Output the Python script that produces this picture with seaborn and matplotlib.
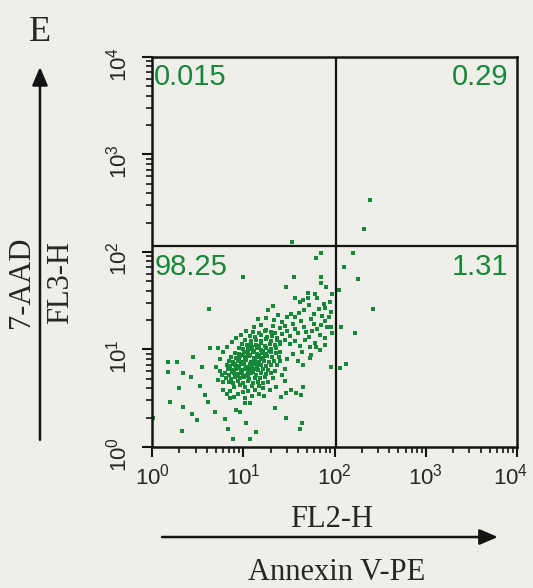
import pandas as pd
import seaborn as sns
import matplotlib
matplotlib.use("Agg")
import matplotlib.pyplot as plt
from matplotlib.ticker import LogLocator, LogFormatterSciNotation, FuncFormatter
from matplotlib.transforms import ScaledTranslation

# events, as 1024-channel values (256 channels per decade)
# (FL2 channel, FL3 channel)
ul_events = [(393, 537)]
ur_events = [(611, 649), (595, 572)]
lr_events = [(564, 509), (539, 473), (578, 441), (620, 362), (569, 299),
             (530, 315), (544, 218), (527, 207), (525, 412)]

# sparse live cells spread round the main population
ll_sparse = [
    (256, 447), (474, 510), (459, 495), (398, 447), (473, 447), (475, 430), (375, 419),
    (489, 419), (438, 405), (457, 403), (506, 403), (401, 390), (424, 386), (160, 362),
    (340, 370), (326, 360), (298, 335), (321, 338), (342, 333), (354, 347), (499, 382),
    (485, 364), (502, 355), (503, 316), (503, 209), (461, 263), (485, 285), (443, 233),
    (447, 242), (424, 215), (4, 77), (83, 42), (228, 20), (276, 20), (293, 40), (214, 46),
    (265, 62), (247, 93), (237, 97), (415, 46), (421, 62), (375, 75), (345, 103), (125, 71),
    (111, 86), (88, 106), (50, 119), (77, 154), (46, 198), (46, 224), (69, 224), (86, 193),
    (109, 183), (116, 237), (136, 161), (149, 137), (158, 119), (177, 93), (205, 73),
    (139, 211), (163, 259), (186, 259), (377, 141), (405, 141), (419, 137), (363, 132),
    (391, 150), (349, 158), (424, 158), (373, 172), (261, 115), (275, 116), (219, 128),
]

# dense core of the live population
ll_core = [
    (230, 158), (248, 162), (262, 157), (281, 161), (300, 159),
    (215, 171), (226, 168), (240, 172), (255, 169), (268, 173), (284, 167), (297, 171), (312, 169),
    (208, 182), (221, 179), (233, 183), (246, 180), (259, 184), (272, 178), (288, 182), (303, 180),
    (318, 183),
    (205, 193), (217, 190), (229, 194), (241, 191), (253, 195), (266, 189), (278, 193), (291, 190),
    (305, 194), (320, 191), (334, 193),
    (212, 204), (224, 201), (236, 205), (249, 202), (261, 206), (273, 200), (286, 204), (298, 201),
    (311, 205), (326, 202),
    (209, 215), (220, 212), (232, 216), (244, 213), (257, 217), (269, 211), (281, 215), (294, 212),
    (306, 216), (319, 213), (333, 215),
    (215, 226), (228, 223), (240, 227), (252, 224), (264, 228), (277, 222), (289, 226), (301, 223),
    (314, 227), (327, 224), (341, 226),
    (222, 237), (236, 234), (248, 238), (260, 235), (273, 239), (285, 233), (297, 237), (310, 234),
    (322, 238), (336, 235),
    (232, 248), (245, 245), (258, 249), (270, 246), (283, 250), (295, 244), (308, 248), (321, 245),
    (335, 249), (349, 246),
    (243, 259), (256, 256), (268, 260), (281, 257), (294, 261), (306, 255), (320, 259), (333, 256),
    (347, 260),
    (252, 270), (266, 267), (279, 271), (292, 268), (305, 272), (318, 266), (332, 270), (345, 267),
    (360, 271),
    (262, 281), (277, 278), (291, 282), (305, 279), (319, 283), (334, 277), (350, 281),
    (275, 292), (290, 289), (306, 293), (322, 290), (338, 292),
    (284, 303), (300, 300), (318, 304), (334, 301),
    # second pass over the darkest part of the blob
    (238, 186), (251, 197), (264, 208), (276, 219), (288, 231), (300, 242), (312, 253),
    (225, 196), (238, 208), (250, 219), (262, 231), (275, 242), (287, 253), (299, 264),
    (256, 186), (268, 197), (281, 208), (293, 219), (305, 230), (317, 241), (329, 252),
    (244, 230), (256, 241), (268, 252), (280, 263), (231, 219), (270, 186), (283, 197),
]

# tail running up to the right
ll_tail = [
    (345, 300), (358, 312), (352, 287), (366, 296), (372, 318), (380, 305), (388, 292), (395, 322),
    (402, 310), (410, 298), (418, 330), (425, 316), (432, 303), (440, 288), (447, 336), (455, 322),
    (462, 309), (470, 295), (478, 345), (485, 330), (492, 316), (400, 340), (412, 352), (426, 360),
    (440, 372), (454, 350), (468, 362), (483, 375), (497, 340), (505, 300), (360, 275), (374, 282),
    (388, 270), (402, 278), (416, 266), (430, 280), (444, 262), (458, 272), (472, 255), (486, 268),
    (390, 348), (415, 380), (438, 390), (462, 392), (475, 320), (450, 305), (365, 328), (378, 340),
    (340, 318), (420, 250),
]

# looser ring round the core
ll_halo = [
    (180, 210), (190, 232), (195, 190), (198, 170), (200, 150), (210, 140), (220, 148), (240, 140),
    (255, 145), (270, 148), (290, 150), (310, 155), (325, 170), (340, 180), (345, 200), (350, 215),
    (355, 235), (360, 250), (200, 250), (210, 262), (225, 275), (235, 285), (250, 295), (265, 305),
    (285, 315), (305, 320), (320, 308), (190, 200), (185, 175), (230, 130), (260, 128), (300, 140),
    (330, 150), (315, 135), (280, 135), (365, 190), (372, 205), (360, 225), (380, 232), (395, 245),
    (410, 225),
]

gate_fl2 = 105
gate_fl3 = 115
quad_labels = {"UL": "0.015", "UR": "0.29", "LL": "98.25", "LR": "1.31"}

paper = "#efeee8"
green = "#15883a"
ink = "#141414"

events = ul_events + ur_events + lr_events + ll_sparse + ll_core + ll_tail + ll_halo
df = pd.DataFrame(events, columns=["fl2_ch", "fl3_ch"])
df["FL2-H"] = 10 ** (df["fl2_ch"] / 256)
df["FL3-H"] = 10 ** (df["fl3_ch"] / 256)

sns.set_style("ticks")
plt.rcParams["font.family"] = ["Liberation Sans", "DejaVu Sans"]
serif = ["Liberation Serif", "DejaVu Serif"]

fig = plt.figure(figsize=(5.33, 5.88), dpi=100, facecolor=paper)
ax = fig.add_axes([0.2852, 0.2398, 0.6848, 0.6633], facecolor=paper)

sns.scatterplot(data=df, x="FL2-H", y="FL3-H", ax=ax, s=10, color=green,
                linewidth=0, marker="s", legend=False)

ax.set_xscale("log")
ax.set_yscale("log")
ax.set_xlim(1, 1e4)
ax.set_ylim(1, 1e4)
ax.set_xlabel("")
ax.set_ylabel("")

ax.axvline(gate_fl2, color=ink, lw=1.6, zorder=3)
ax.axhline(gate_fl3, color=ink, lw=1.6, zorder=3)

sci = LogFormatterSciNotation()
for a in (ax.xaxis, ax.yaxis):
    a.set_major_locator(LogLocator(base=10, numticks=6))
    a.set_minor_locator(LogLocator(base=10, subs=range(2, 10), numticks=12))
    a.set_major_formatter(sci)
# the 10^4 label on x sits pulled in from the page edge, drawn separately below
ax.xaxis.set_major_formatter(FuncFormatter(lambda v, p: "" if v >= 1e4 else sci(v, p)))

ax.tick_params(which="major", length=7, width=1.5, color=ink, labelsize=16)
ax.tick_params(axis="x", pad=5)
ax.tick_params(axis="y", labelrotation=90, pad=8)
ax.tick_params(which="minor", length=4.5, width=1.2, color=ink)
for sp in ax.spines.values():
    sp.set_visible(True)
    sp.set_linewidth(1.8)
    sp.set_color(ink)

ax.text(1, 0, sci(1e4), fontsize=16, ha="center", va="top",
        transform=ax.transAxes + ScaledTranslation(-5 / 72, -12 / 72, fig.dpi_scale_trans))

qkw = dict(transform=ax.transAxes, fontsize=21, color=green, va="top")
ax.text(0.006, 0.985, quad_labels["UL"], ha="left", **qkw)
ax.text(0.975, 0.985, quad_labels["UR"], ha="right", **qkw)
ax.text(0.006, 0.497, quad_labels["LL"], ha="left", **qkw)
ax.text(0.975, 0.497, quad_labels["LR"], ha="right", **qkw)

fig.text(0.075, 0.944, "E", family=serif, fontsize=26, ha="center", va="center")
fig.text(0.623, 0.117, "FL2-H", family=serif, fontsize=22, ha="center", va="center")
fig.text(0.632, 0.027, "Annexin V-PE", family=serif, fontsize=22, ha="center", va="center")
fig.text(0.041, 0.520, "7-AAD", family=serif, fontsize=22, rotation=90, ha="center", va="center")
fig.text(0.113, 0.519, "FL3-H", family=serif, fontsize=22, rotation=90, ha="center", va="center")

arrow = dict(arrowstyle="-|>,head_length=1.1,head_width=0.47", mutation_scale=10,
             lw=1.8, color=ink, shrinkA=0, shrinkB=0)
ax.annotate("", xy=(0.934, 0.0867), xytext=(0.304, 0.0867), xycoords="figure fraction",
            textcoords="figure fraction", arrowprops=arrow, annotation_clip=False)
ax.annotate("", xy=(0.075, 0.886), xytext=(0.075, 0.252), xycoords="figure fraction",
            textcoords="figure fraction", arrowprops=arrow, annotation_clip=False)

fig.savefig("out.png", dpi=100, facecolor=paper)
